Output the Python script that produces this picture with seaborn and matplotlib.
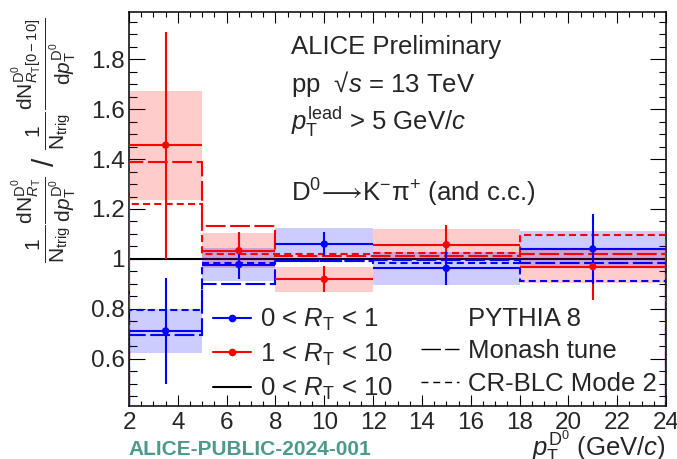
import numpy as np
import pandas as pd
import seaborn as sns
import matplotlib
matplotlib.use("Agg")
import matplotlib.pyplot as plt
from matplotlib.lines import Line2D
from matplotlib.ticker import MultipleLocator, FuncFormatter

# pT bin edges of the D0 spectrum (GeV/c)
edges = np.array([2, 5, 8, 12, 18, 24])

# 0 < R_T < 1 : ratio, statistical and systematic uncertainties
low_val = np.array([0.711, 0.977, 1.059, 0.962, 1.040])
low_stat = np.array([0.212, 0.058, 0.048, 0.066, 0.140])
low_sys = np.array([0.089, 0.067, 0.064, 0.065, 0.070])

# 1 < R_T < 10
high_val = np.array([1.456, 1.033, 0.918, 1.057, 0.969])
high_stat = np.array([0.455, 0.075, 0.052, 0.078, 0.133])
high_sys = np.array([0.219, 0.070, 0.050, 0.061, 0.065])

# 0 < R_T < 10 reference (ratio to itself)
ref_val = np.array([1.0, 1.0, 1.0, 1.0, 1.0])

# PYTHIA 8 predictions
monash_low = np.array([0.694, 0.899, 0.992, 0.995, 0.985])
monash_high = np.array([1.388, 1.131, 1.012, 1.010, 1.021])
crblc_low = np.array([0.793, 0.982, 0.990, 0.982, 0.911])
crblc_high = np.array([1.220, 1.021, 1.018, 1.023, 1.094])

xticks = [2, 4, 6, 8, 10, 12, 14, 16, 18, 20, 22, 24]
yticks = [0.6, 0.8, 1.0, 1.2, 1.4, 1.6, 1.8]

centers = 0.5 * (edges[:-1] + edges[1:])
halfw = 0.5 * np.diff(edges)

sns.set_theme(style="ticks")
plt.rcParams["font.family"] = ["Liberation Sans", "DejaVu Sans"]
plt.rcParams["mathtext.fontset"] = "custom"
plt.rcParams["mathtext.rm"] = "Liberation Sans"
plt.rcParams["mathtext.it"] = "Liberation Sans:italic"
plt.rcParams["mathtext.bf"] = "Liberation Sans:bold"

FS = 18.5
TFS = 17.5
BLUE = "#0000ff"
RED = "#ff0000"
MONASH = (0, (9.5, 2.2))
CRBLC = (0, (3.4, 2.0))
LW = 1.5

fig = plt.figure(figsize=(6.77, 4.59), dpi=100)
ax = fig.add_axes([0.1906, 0.1155, 0.7932, 0.8584])

# reference line at unity, under the boxes
ax.stairs(ref_val, edges, color="black", lw=LW, zorder=1)

# systematic boxes
ax.bar(centers, 2 * high_sys, bottom=high_val - high_sys, width=np.diff(edges),
       color=RED, alpha=0.2, linewidth=0, zorder=2)
ax.bar(centers, 2 * low_sys, bottom=low_val - low_sys, width=np.diff(edges),
       color=BLUE, alpha=0.2, linewidth=0, zorder=2)

# model histograms
ax.stairs(monash_high, edges, color=RED, lw=LW, linestyle=MONASH, zorder=3)
ax.stairs(crblc_high, edges, color=RED, lw=LW, linestyle=CRBLC, zorder=3)
ax.stairs(monash_low, edges, color=BLUE, lw=LW, linestyle=MONASH, zorder=3)
ax.stairs(crblc_low, edges, color=BLUE, lw=LW, linestyle=CRBLC, zorder=3)

# data with statistical uncertainties
ax.errorbar(centers, high_val, xerr=halfw, yerr=high_stat, fmt="none",
            ecolor=RED, elinewidth=LW, capsize=0, zorder=4)
ax.errorbar(centers, low_val, xerr=halfw, yerr=low_stat, fmt="none",
            ecolor=BLUE, elinewidth=LW, capsize=0, zorder=4)
pts = pd.DataFrame({
    "pt": np.concatenate([centers, centers]),
    "ratio": np.concatenate([high_val, low_val]),
    "class": ["high"] * len(centers) + ["low"] * len(centers),
})
sns.scatterplot(data=pts, x="pt", y="ratio", hue="class",
                palette={"high": RED, "low": BLUE}, s=28, linewidth=0,
                legend=False, zorder=5, ax=ax)

ax.set_xlim(2, 24)
ax.set_ylim(0.41, 1.99)
ax.set_xlabel("")
ax.set_ylabel("")
ax.set_xticks(xticks)
ax.set_yticks(yticks)
ax.xaxis.set_minor_locator(MultipleLocator(0.5))
ax.yaxis.set_minor_locator(MultipleLocator(0.05))
ax.yaxis.set_major_formatter(FuncFormatter(lambda v, p: f"{v:g}"))
ax.tick_params(axis="both", which="both", direction="in", top=True, right=True,
               width=0.8, color="black", labelsize=TFS)
ax.tick_params(axis="y", which="major", length=11.3, pad=3)
ax.tick_params(axis="y", which="minor", length=5.4)
ax.tick_params(axis="x", which="major", length=8, pad=4)
ax.tick_params(axis="x", which="minor", length=3.6)
for s in ax.spines.values():
    s.set_linewidth(1.1)
    s.set_color("black")

# annotations
ax.text(0.302, 0.911, "ALICE Preliminary", transform=ax.transAxes,
        fontsize=FS, va="center", ha="left")
ax.text(0.302, 0.817, "pp  √$s$ = 13 TeV", transform=ax.transAxes,
        fontsize=FS, va="center", ha="left")
ax.text(0.302, 0.722, r"$p_{\rm T}^{\rm lead}$ > 5 GeV/$c$", transform=ax.transAxes,
        fontsize=FS, va="center", ha="left")
ax.text(0.302, 0.541, r"D$^{0}\!\longrightarrow\!$K$^{-}$π$^{+}$ (and c.c.)",
        transform=ax.transAxes, fontsize=FS, va="center", ha="left")

# legends
h_low = Line2D([], [], color=BLUE, lw=LW, marker="o", ms=4.5)
h_high = Line2D([], [], color=RED, lw=LW, marker="o", ms=4.5)
h_ref = Line2D([], [], color="black", lw=LW)
leg1 = ax.legend([h_low, h_high, h_ref],
                 [r"0 < $R_{\rm T}$ < 1", r"1 < $R_{\rm T}$ < 10", r"0 < $R_{\rm T}$ < 10"],
                 loc="upper left", bbox_to_anchor=(0.156, 0.252), frameon=False,
                 fontsize=FS, handlelength=1.48, handletextpad=0.36,
                 labelspacing=0.33, borderpad=0, borderaxespad=0, numpoints=1)
ax.add_artist(leg1)
h_none = Line2D([], [], linestyle="none")
h_mon = Line2D([], [], color="black", lw=1.0, linestyle=(0, (14, 3)))
h_cr = Line2D([], [], color="black", lw=1.0, linestyle=(0, (5, 3.5)))
ax.legend([h_none, h_mon, h_cr], ["PYTHIA 8", "Monash tune", "CR-BLC Mode 2"],
          loc="upper left", bbox_to_anchor=(0.543, 0.252), frameon=False,
          fontsize=FS, handlelength=1.48, handletextpad=0.36,
          labelspacing=0.33, borderpad=0, borderaxespad=0)

# axis titles
fig.text(0.066, 0.695,
         r"$\frac{1}{\mathrm{N}_{\rm trig}}\frac{\mathrm{dN}^{\rm D^{0}}_{R_{\rm T}}}{\mathrm{d}p^{\rm D^{0}}_{\rm T}}"
         r"\ /\ \frac{1}{\mathrm{N}_{\rm trig}}\frac{\mathrm{dN}^{\rm D^{0}}_{R_{\rm T}\rm[0-10]}}{\mathrm{d}p^{\rm D^{0}}_{\rm T}}$",
         rotation=90, fontsize=21.5, ha="center", va="center")
fig.text(0.984, 0.008, r"$p_{\rm T}^{\rm D^{0}}$ (GeV/$c$)", fontsize=FS,
         ha="right", va="baseline")
fig.text(0.19, 0.008, "ALICE-PUBLIC-2024-001", fontsize=15, fontweight="bold",
         color="#4c9a8c", ha="left", va="baseline")

fig.savefig("out.png", dpi=100, facecolor="white")
